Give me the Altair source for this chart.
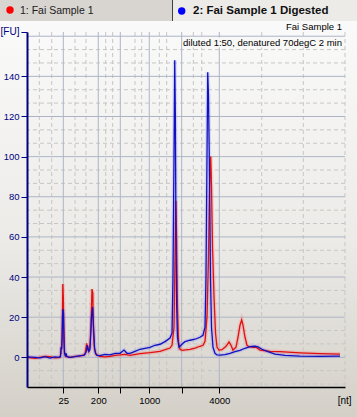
import altair as alt
import pandas as pd

# ---- axis / grid values (x = migration time in s, labelled with ladder sizes) ----
ladder_t = [23.05, 28.88, 32.55, 37.38, 42.78, 49.05]
ladder_nt = ["25", "200", "", "1000", "", "4000"]
minor_x_t = [19.05, 21.12, 25.0, 26.83, 30.12, 31.28, 35.0, 36.12, 39.05, 40.28,
             44.72, 46.12, 56.12, 63.05, 70.0]
y_ticks = [0, 20, 40, 60, 80, 100, 120, 140, 162.1]
major_y = [0, 20, 40, 60, 80, 100, 120, 140, 160]
minor_y = [-13.33, -6.67, 6.67, 13.33, 26.67, 33.33, 46.67, 53.33, 66.67, 73.33,
           86.67, 93.33, 106.67, 113.33, 126.67, 133.33, 146.67, 153.33]

# ---- sample 1 (red) ----
red_t = [17.00, 18.33, 19.17, 20.00, 20.83, 21.67, 22.50, 22.67, 22.87, 22.97, 23.05, 23.13,
         23.25, 23.42, 24.17, 25.00, 25.83, 26.67, 26.95, 27.08, 27.25, 27.50, 27.67, 27.83,
         27.97, 28.08, 28.25, 28.50, 29.17, 30.00, 30.83, 31.67, 32.50, 33.33, 34.17, 35.83,
         37.50, 39.17, 40.83, 41.17, 41.50, 41.67, 41.80, 41.93, 42.08, 42.25, 42.50, 42.83,
         44.17, 45.00, 45.83, 46.33, 46.67, 47.00, 47.25, 47.42, 47.62, 47.75, 47.92, 48.17,
         48.42, 48.67, 49.00, 49.50, 50.17, 50.67, 51.00, 51.33, 51.83, 52.17, 52.50, 52.78,
         53.00, 53.33, 53.67, 54.00, 54.67, 55.17, 55.83, 57.50, 59.17, 62.50, 65.83, 69.17]
red_fu = [0, -0.5, 0, 0.5, 0.3, -0.3, 0, 2, 10, 36.5, 30, 15,
          3, 0.5, 0, 0.5, 0.6, 1.5, 7, 4, 3, 6, 16, 34,
          32, 12, 4, 1.5, 0.5, 0.2, 0.5, 1, 1.2, 1.5, 1, 1.8,
          2.3, 3, 4.6, 6, 15, 50, 78, 60, 25, 8, 4, 3.5,
          4, 4.6, 5.5, 6, 8, 20, 50, 85, 100, 85, 55, 30,
          12, 5, 3.6, 3.8, 5.5, 7.6, 6, 3.6, 5, 10, 16, 18.6,
          16, 10, 6, 5.3, 5, 5, 3.6, 3, 2.8, 2.2, 1.8, 1.6]

# ---- sample 2 digested (blue) ----
blue_t = [17.00, 18.33, 19.17, 20.00, 20.83, 21.67, 22.33, 22.58, 22.67, 22.80, 22.92, 23.00,
          23.08, 23.17, 23.25, 23.42, 23.50, 23.67, 24.17, 25.00, 25.83, 26.50, 26.83, 27.08,
          27.22, 27.33, 27.50, 27.63, 27.75, 27.92, 28.03, 28.13, 28.25, 28.42, 28.67, 29.17,
          30.00, 30.83, 31.67, 32.50, 33.17, 33.67, 34.17, 35.00, 35.83, 36.67, 37.50, 38.33,
          39.17, 40.00, 40.83, 41.17, 41.33, 41.50, 41.62, 41.73, 41.83, 41.95, 42.08, 42.33,
          42.67, 43.00, 43.33, 44.17, 45.00, 45.83, 46.33, 46.67, 46.83, 47.00, 47.12, 47.25,
          47.42, 47.58, 47.75, 48.00, 48.33, 48.67, 49.17, 50.00, 50.83, 51.67, 52.50, 53.33,
          54.17, 55.00, 55.50, 56.17, 57.17, 58.33, 60.00, 62.50, 65.83, 69.17]
blue_fu = [0.2, 0, -0.3, 0.3, -0.4, 0.2, 0, 0.5, 5, 4, 20, 24,
           22, 8, 2, 0.5, 2, 0.3, 0, 0.3, 0.8, 1, 2.5, 6,
           4, 3, 4, 12, 20, 25, 18, 13, 5, 2, 1, 0.8,
           1.5, 1.2, 2, 2, 3.6, 2, 2, 3, 4, 4.5, 5, 6,
           6.5, 7.8, 9.6, 12, 40, 100, 148, 120, 60, 25, 10, 5,
           6, 7, 7.8, 8.5, 9, 10, 11, 15, 40, 100, 142, 130,
           90, 40, 15, 5, 2, 1.2, 1.1, 1.3, 2, 2.8, 3.5, 4.5,
           5.3, 5.5, 5.2, 4, 2.8, 1.6, 1.0, 0.6, 0.5, 0.6]

red_df = pd.DataFrame({"t": red_t, "fu": red_fu})
blue_df = pd.DataFrame({"t": blue_t, "fu": blue_fu})

FONT = "Liberation Sans"
NAVY = "#000080"
xs = alt.Scale(domain=[17, 70], nice=False, zero=False)
ys = alt.Scale(domain=[-14.8, 162.1], nice=False, zero=False)
one = pd.DataFrame({"k": [0]})

expr = " : ".join(f"abs(datum.value - {t}) < 0.01 ? '{n}'" for t, n in zip(ladder_t, ladder_nt)) + " : ''"
x_axis = alt.Axis(
    values=ladder_t, labelExpr=expr, title=None, grid=False, domainColor="#000000",
    domainWidth=1.5, tickColor="#000000", tickSize=6, tickWidth=1, labelFont=FONT,
    labelFontSize=9.5, labelColor="#000000", labelPadding=2, labelFlush=False,
    labelOverlap=False, zindex=2)
y_axis = alt.Axis(
    values=y_ticks, format="d", labelExpr="datum.value > 150 ? '' : datum.label",
    title=None, grid=False, domainColor=NAVY, domainWidth=2, tickColor=NAVY, tickSize=6,
    tickWidth=1, labelFont=FONT, labelFontSize=9.5, labelColor=NAVY, labelPadding=2,
    labelOverlap=False, labelFlush=False, zindex=2)
X = dict(field="t", type="quantitative", scale=xs, axis=x_axis)
Y = dict(field="fu", type="quantitative", scale=ys, axis=y_axis)


def box(x, x2, y, y2, fill, **kw):
    return alt.Chart(one).mark_rect(fill=fill, **kw).encode(
        x=alt.value(x), x2=alt.value(x2), y=alt.value(y), y2=alt.value(y2))


def label(text, x, y, **kw):
    return alt.Chart(one).mark_text(text=text, font=FONT, baseline="middle", **kw).encode(
        x=alt.value(x), y=alt.value(y))


grad = alt.Gradient(gradient="linear", x1=0, x2=0, y1=0, y2=1,
                    stops=[alt.GradientStop(color="#fafafa", offset=0),
                           alt.GradientStop(color="#ecebe8", offset=0.55),
                           alt.GradientStop(color="#d4d0c8", offset=1)])
bg = alt.Chart(one).mark_rect(fill=grad).encode(
    x=alt.value(-27), x2=alt.value(330), y=alt.value(-11), y2=alt.value(385))

tab_left = box(-27, 145, -32, -11, "#d8d5d0")
tab_right = box(146, 330, -32, -11, "#ecebe8")
tab_div = alt.Chart(one).mark_rule(color="#404040", strokeWidth=1).encode(
    x=alt.value(145.5), y=alt.value(-32), y2=alt.value(-11))
dot_red = alt.Chart(one).mark_point(filled=True, color="#ff0000", size=55, opacity=1).encode(
    x=alt.value(-17), y=alt.value(-22))
dot_blue = alt.Chart(one).mark_point(filled=True, color="#0000ff", size=55, opacity=1).encode(
    x=alt.value(154.7), y=alt.value(-21))
tab_txt1 = label("1: Fai Sample 1", -7, -21, align="left", fontSize=10.5, color="#202020")
tab_txt2 = label("2: Fai Sample 1 Digested", 166, -21, align="left", fontSize=11.5,
                 fontWeight="bold", color="#101010")

grid_minor_x = alt.Chart(pd.DataFrame({"t": minor_x_t})).mark_rule(
    color="#c6c6c6", strokeDash=[4, 3], strokeWidth=1).encode(x=alt.X(**X))
grid_minor_y = alt.Chart(pd.DataFrame({"fu": minor_y})).mark_rule(
    color="#c6c6c6", strokeDash=[4, 3], strokeWidth=1).encode(y=alt.Y(**Y))
grid_major_x = alt.Chart(pd.DataFrame({"t": ladder_t})).mark_rule(
    color="#adb5c5", strokeWidth=1).encode(x=alt.X(**X))
grid_major_y = alt.Chart(pd.DataFrame({"fu": major_y})).mark_rule(
    color="#adb5c5", strokeWidth=1).encode(y=alt.Y(**Y))

note_box = box(156, 317, 5.5, 15.5, "#f8f8f7")
title1 = label("Fai Sample 1", 315, -5, align="right", fontSize=9.5, color="#000000")
title2 = label("diluted 1:50, denatured 70degC 2 min", 315, 10.5, align="right",
               fontSize=9.5, color="#000000")
fu_lbl = label("[FU]", -17, -0.5, align="center", fontSize=10, color=NAVY)
nt_lbl = label("[nt]", 317.7, 368.5, align="center", fontSize=10, color="#000000")

red_glow = alt.Chart(red_df).mark_line(color="#ff5050", strokeWidth=4, opacity=0.22).encode(
    x=alt.X(**X), y=alt.Y(**Y), order="t:Q")
blue_glow = alt.Chart(blue_df).mark_line(color="#6060ff", strokeWidth=4, opacity=0.18).encode(
    x=alt.X(**X), y=alt.Y(**Y), order="t:Q")
red_line = alt.Chart(red_df).mark_line(color="#e01010", strokeWidth=1.3).encode(
    x=alt.X(**X), y=alt.Y(**Y), order="t:Q")
blue_line = alt.Chart(blue_df).mark_line(color="#1010c0", strokeWidth=1.3).encode(
    x=alt.X(**X), y=alt.Y(**Y), order="t:Q")

chart = alt.layer(
    bg, tab_left, tab_right, tab_div, dot_red, dot_blue, tab_txt1, tab_txt2,
    grid_minor_x, grid_minor_y, grid_major_x, grid_major_y,
    note_box, title1, title2, fu_lbl, nt_lbl,
    red_glow, blue_glow, red_line, blue_line,
).properties(
    width=318, height=355,
    autosize=alt.AutoSizeParams(type="none"),
    padding={"left": 27, "top": 32, "right": 12, "bottom": 30},
    background="#d4d0c8",
).configure_view(stroke=None)

chart.save("out.html", embed_options={"renderer": "svg", "actions": False})
